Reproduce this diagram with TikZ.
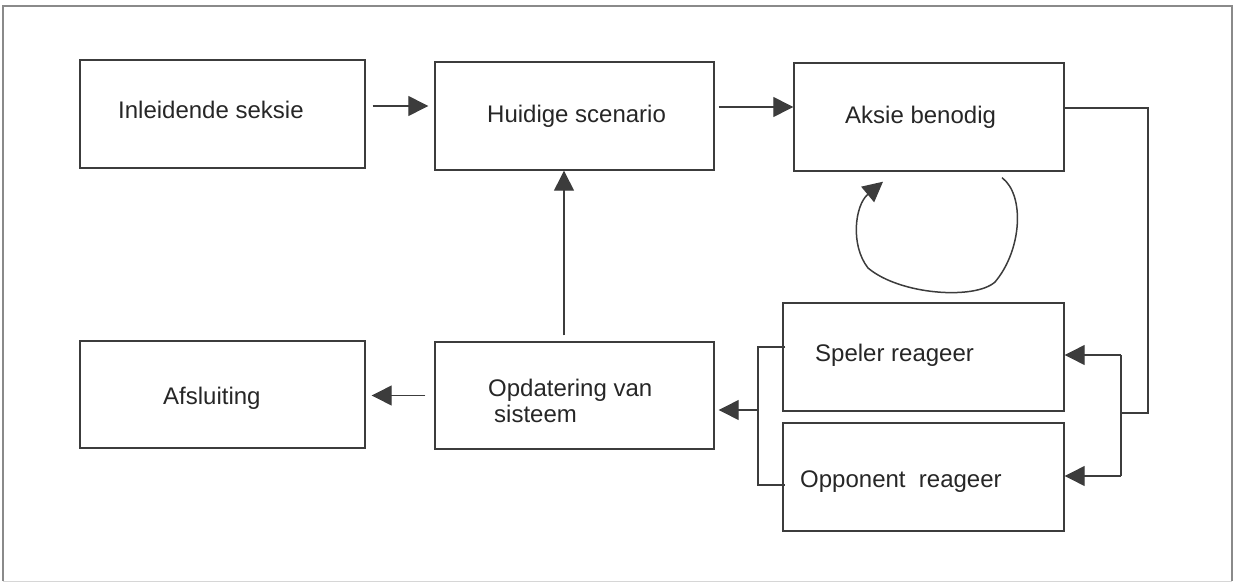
\documentclass[tikz,border=0pt]{standalone}
\usepackage{fontspec}
\setmainfont{Liberation Sans}
\usetikzlibrary{arrows.meta,calc}

\definecolor{ink}{HTML}{3C3C3C}
\definecolor{framegray}{HTML}{8A8A8A}

\tikzset{
  stage/.style={draw=ink, line width=1.4pt, rectangle, inner sep=0pt},
  lbl/.style={anchor=base west, inner sep=0pt, text=black!85,
              font=\fontsize{24}{26}\selectfont},
  wire/.style={draw=ink, line width=1.3pt},
  arr/.style={wire, -{Triangle[length=20pt,width=20pt]}},
}

\begin{document}
\begin{tikzpicture}[x=1pt, y=-1pt]
  \useasboundingbox (0,0) rectangle (1236,583);

  % outer frame
  \draw[framegray, line width=1.6pt] (3,581) -- (3,6) -- (1232,6) -- (1232,581);
  \draw[framegray!35, line width=1pt] (3,581) -- (1232,581);

  % process boxes
  \node[stage, minimum width=285pt, minimum height=108pt] (inl) at (222.5,114) {};
  \node[stage, minimum width=279pt, minimum height=108pt] (hui) at (574.5,116) {};
  \node[stage, minimum width=270pt, minimum height=108pt] (aks) at (929,117) {};
  \node[stage, minimum width=285pt, minimum height=107pt] (afs) at (222.5,394.5) {};
  \node[stage, minimum width=279pt, minimum height=107pt] (opd) at (574.5,395.5) {};
  \node[stage, minimum width=281pt, minimum height=108pt] (spe) at (923.5,357) {};
  \node[stage, minimum width=281pt, minimum height=108pt] (opp) at (923.5,477) {};

  % box texts
  \node[lbl] (tinl) at (118,119) {Inleidende seksie};
  \node[lbl] (thui) at (487,123) {Huidige scenario};
  \node[lbl] (taks) at (845,124) {Aksie benodig};
  \node[lbl] (tafs) at (163,404) {Afsluiting};
  \node[lbl] (topd1) at (488,396) {Opdatering van};
  \node[lbl] (topd2) at (494,422) {sisteem};
  \node[lbl] (tspe) at (815,361) {Speler reageer};
  \node[lbl] (topp) at (800,487) {Opponent\ \ reageer};

  % top row flow
  \draw[arr, shorten <=7pt, shorten >=6pt]
    ([yshift=8pt]inl.east) -- ([yshift=8pt]inl.east -| hui.west);
  \draw[arr, shorten <=4pt]
    ([yshift=9pt]hui.east) -- ([yshift=9pt]hui.east -| aks.west);

  % branch from "Aksie benodig" to both reactions
  \coordinate (rc) at (1148,413);
  \coordinate (jM) at (1121,413);
  \coordinate (jT) at (1121,355);
  \coordinate (jB) at (1121,476);
  \draw[wire] ([yshift=9pt]aks.east) -| (rc) -- (jM);
  \draw[wire] (jT) -- (jB);
  \draw[arr] (jT) -- (jT -| spe.east);
  \draw[arr] (jB) -- (jB -| opp.east);

  % reactions merge into system update
  \coordinate (brT) at (758,347);
  \coordinate (brB) at (758,485);
  \coordinate (brM) at (758,410);
  \draw[wire] ([xshift=3pt]spe.west |- brT) -- (brT) -- (brB) -- ([xshift=3pt]opp.west |- brB);
  \draw[arr, shorten >=4pt] (brM) -- (brM -| opd.east);

  % system update back to scenario and on to closing
  \draw[arr, shorten <=6pt] ([xshift=-10.5pt]opd.north) -- ([xshift=-10.5pt]hui.south);
  \draw[arr, shorten <=9pt, shorten >=6pt] (opd.west) -- (opd.west -| afs.east);

  % hand-drawn repeat loop under "Aksie benodig"
  \coordinate (ls) at ($(aks.south)+(73,6)$);
  \coordinate (le) at ($(aks.south)+(-46,10)$);
  \draw[arr, line width=1.5pt]
    (ls) .. controls (1025,195) and (1022,250) .. (995,282)
         .. controls (975,300) and (900,295) .. (868,268)
         .. controls (850,245) and (855,205) .. (le);
\end{tikzpicture}
\end{document}
